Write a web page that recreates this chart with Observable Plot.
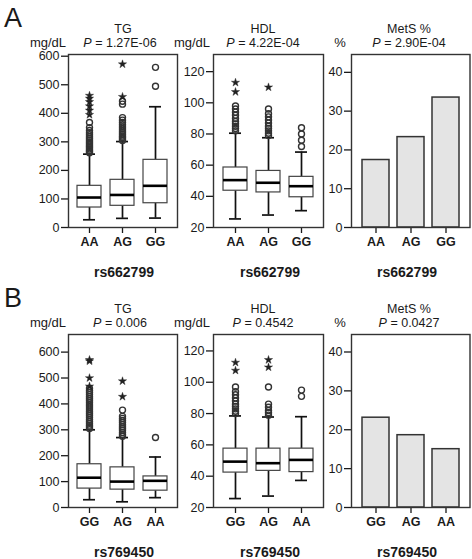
<!DOCTYPE html>
<html>
<head>
<meta charset="utf-8">
<script src="https://cdn.jsdelivr.net/npm/d3@7"></script>
<script src="https://cdn.jsdelivr.net/npm/@observablehq/plot@0.6"></script>
<style>
  html, body { margin: 0; padding: 0; background: #fff; }
  #fig { position: relative; width: 472px; height: 559px; font-family: "Liberation Sans", Arial, Helvetica, sans-serif; color: #1a1a1a; overflow: hidden; }
  .lbl { position: absolute; transform: translate(-50%, -50%); white-space: nowrap; line-height: 1; }
  .pan { position: absolute; }
  .pan svg { overflow: visible; max-width: none !important; }
  .pan g[aria-label="x-axis tick label"] text { font-weight: bold; }
</style>
</head>
<body>
<div id="fig"></div>
<script>
// ---------- data ----------
const snps = ["rs662799", "rs769450"];
const rowLetters = ["A", "B"];
const panelTitles = ["TG", "HDL", "MetS %"];
const units = ["mg/dL", "mg/dL", "%"];
const pA = ["1.27E-06", "4.22E-04", "2.90E-04"];
const pB = ["0.006", "0.4542", "0.0427"];

const genoA = ["AA", "AG", "GG"];
const genoB = ["GG", "AG", "AA"];

const tgTicks = [0, 100, 200, 300, 400, 500, 600];
const hdlTicks = [20, 40, 60, 80, 100, 120];
const metsTicks = [0, 10, 20, 30, 40];

// Row A: TG
const tgA_low = [27, 32, 33];
const tgA_q1 = [70, 76, 85];
const tgA_med = [105, 114, 146];
const tgA_q3 = [146, 167, 237];
const tgA_high = [257, 301, 423];
const tgA_circ = [
  [262, 266, 270, 275, 280, 285, 290, 295, 300, 306, 312, 318, 325, 332, 340, 350, 368],
  [305, 310, 315, 320, 326, 332, 338, 345, 352, 360, 368, 376, 385, 432, 442],
  [495, 561]
];
const tgA_star = [[395, 410, 425, 440, 452, 462], [458, 572], []];

// Row A: HDL
const hdlA_low = [25.5, 28, 30.8];
const hdlA_q1 = [43.6, 42.5, 39.4];
const hdlA_med = [50.4, 48.7, 46.5];
const hdlA_q3 = [58.5, 56.3, 52.5];
const hdlA_high = [80.5, 77.6, 68.4];
const hdlA_circ = [
  [82, 83.5, 85, 86.5, 88, 90, 92, 94, 96, 98],
  [79, 80.5, 82, 83.5, 85, 87, 89, 91, 93, 96],
  [72, 76, 80, 84]
];
const hdlA_star = [[107, 113], [110], []];

// Row A: MetS
const metsA = [17.4, 23.3, 33.5];

// Row B: TG
const tgB_low = [30, 22, 38];
const tgB_q1 = [73, 69, 65];
const tgB_med = [115, 100, 103];
const tgB_q3 = [167, 155, 120];
const tgB_high = [300, 270, 195];
const tgB_circ = [
  [305, 312, 318, 325, 332, 340, 348, 356, 364, 372, 380, 388, 396, 404, 412, 420, 428, 436, 444, 452, 460],
  [275, 282, 290, 298, 305, 312, 320, 328, 336, 344, 352, 376],
  [270]
];
const tgB_star = [[468, 500, 565, 570], [428, 488], []];

// Row B: HDL
const hdlB_low = [25.7, 27.3, 37.3];
const hdlB_q1 = [42.3, 43.4, 42.6];
const hdlB_med = [49.3, 48.3, 50.4];
const hdlB_q3 = [57.6, 57.6, 57.6];
const hdlB_high = [78.5, 77.8, 78];
const hdlB_circ = [
  [80, 81.5, 83, 84.5, 86, 88, 90, 92, 94, 97],
  [79, 80.5, 82, 84, 86, 97],
  [91, 95]
];
const hdlB_star = [[107.5, 112.6], [109.6, 114.3], []];

// Row B: MetS
const metsB = [23.1, 18.6, 15.0];

// ---------- drawing ----------
const FONT = '"Liberation Sans", Arial, Helvetica, sans-serif';
const fig = document.getElementById("fig");

function addLabel(html, x, y, size, weight) {
  const d = document.createElement("div");
  d.className = "lbl";
  d.style.left = x + "px";
  d.style.top = y + "px";
  d.style.fontSize = size + "px";
  d.style.fontWeight = weight || "normal";
  d.innerHTML = html;
  fig.appendChild(d);
}

function place(svg, left, top) {
  const w = document.createElement("div");
  w.className = "pan";
  w.style.left = left + "px";
  w.style.top = top + "px";
  w.appendChild(svg);
  fig.appendChild(w);
}

function boxPanel(cfg) {
  const rows = cfg.groups.map((g, i) => ({
    g, low: cfg.low[i], q1: cfg.q1[i], med: cfg.med[i], q3: cfg.q3[i], high: cfg.high[i]
  }));
  const circ = cfg.groups.flatMap((g, i) => cfg.circ[i].map(v => ({g, v})));
  const star = cfg.groups.flatMap((g, i) => cfg.star[i].map(v => ({g, v})));
  return Plot.plot({
    width: cfg.width, height: 260,
    marginLeft: cfg.ml, marginRight: cfg.mr, marginTop: 54, marginBottom: 33,
    style: {fontFamily: FONT, fontSize: "12.5px", background: "transparent", color: "#1a1a1a", overflow: "visible"},
    x: {domain: cfg.groups, paddingInner: 0.26, paddingOuter: 0.28, label: null},
    y: {domain: cfg.domain, label: null},
    marks: [
      Plot.axisY({ticks: cfg.ticks, tickSize: 7, tickPadding: 2, label: null, strokeWidth: 1.3}),
      Plot.axisX({tickSize: 6, tickPadding: 4, label: null, strokeWidth: 1.3, fontWeight: "bold"}),
      Plot.ruleX(rows, {x: "g", y1: "low", y2: "q1", stroke: "#111", strokeWidth: 1.7}),
      Plot.ruleX(rows, {x: "g", y1: "q3", y2: "high", stroke: "#111", strokeWidth: 1.7}),
      Plot.tickY(rows, {x: "g", y: "low", stroke: "#111", strokeWidth: 1.7, insetLeft: 6, insetRight: 6}),
      Plot.tickY(rows, {x: "g", y: "high", stroke: "#111", strokeWidth: 1.7, insetLeft: 6, insetRight: 6}),
      Plot.barY(rows, {x: "g", y1: "q1", y2: "q3", fill: "white", stroke: "#444", strokeWidth: 1.2}),
      Plot.tickY(rows, {x: "g", y: "med", stroke: "#000", strokeWidth: 2.6}),
      Plot.dot(circ, {x: "g", y: "v", r: 3, stroke: "#333", strokeWidth: 1.4, fill: "none"}),
      Plot.dot(star, {x: "g", y: "v", r: 2.6, symbol: "star", fill: "#222", stroke: "#222", strokeWidth: 0.4})
    ].concat([Plot.frame({stroke: "#333", strokeWidth: 1.4})])
  });
}

function barPanel(cfg) {
  const rows = cfg.groups.map((g, i) => ({g, v: cfg.values[i]}));
  return Plot.plot({
    width: cfg.width, height: 260,
    marginLeft: cfg.ml, marginRight: cfg.mr, marginTop: 54, marginBottom: 33,
    style: {fontFamily: FONT, fontSize: "12.5px", background: "transparent", color: "#1a1a1a", overflow: "visible"},
    x: {domain: cfg.groups, paddingInner: 0.24, paddingOuter: 0.29, label: null},
    y: {domain: cfg.domain, label: null},
    marks: [
      Plot.axisY({ticks: cfg.ticks, tickSize: 7, tickPadding: 2, label: null, strokeWidth: 1.3}),
      Plot.axisX({tickSize: 6, tickPadding: 4, label: null, strokeWidth: 1.3, fontWeight: "bold"}),
      Plot.barY(rows, {x: "g", y: "v", fill: "#e4e4e4", stroke: "#333", strokeWidth: 1.5}),
      Plot.frame({stroke: "#333", strokeWidth: 1.4})
    ]
  });
}

const rowsCfg = [
  {dy: 0, groups: genoA, p: pA, tgDomain: [0, 606], hdlDomain: [20, 131], metsDomain: [0, 44.6],
   tg: [tgA_low, tgA_q1, tgA_med, tgA_q3, tgA_high, tgA_circ, tgA_star],
   hdl: [hdlA_low, hdlA_q1, hdlA_med, hdlA_q3, hdlA_high, hdlA_circ, hdlA_star],
   mets: metsA},
  {dy: 280, groups: genoB, p: pB, tgDomain: [0, 668], hdlDomain: [20, 130.5], metsDomain: [0, 44.5],
   tg: [tgB_low, tgB_q1, tgB_med, tgB_q3, tgB_high, tgB_circ, tgB_star],
   hdl: [hdlB_low, hdlB_q1, hdlB_med, hdlB_q3, hdlB_high, hdlB_circ, hdlB_star],
   mets: metsB}
];

rowsCfg.forEach((r, ri) => {
  const [l1, q11, m1, q31, h1, c1, s1] = r.tg;
  place(boxPanel({groups: r.groups, low: l1, q1: q11, med: m1, q3: q31, high: h1, circ: c1, star: s1,
    domain: r.tgDomain, ticks: tgTicks, width: 185, ml: 68, mr: 8}), 0, r.dy);
  const [l2, q12, m2, q32, h2, c2, s2] = r.hdl;
  place(boxPanel({groups: r.groups, low: l2, q1: q12, med: m2, q3: q32, high: h2, circ: c2, star: s2,
    domain: r.hdlDomain, ticks: hdlTicks, width: 145, ml: 28, mr: 7}), 185, r.dy);
  place(barPanel({groups: r.groups, values: r.mets, domain: r.metsDomain, ticks: metsTicks,
    width: 142, ml: 21, mr: 2.5}), 330, r.dy);

  // text
  addLabel(rowLetters[ri], 13, r.dy + 18, 27, "normal");
  const titleX = [123, 263, 409];
  const unitX = [48, 192, 340];
  const snpX = [124, 270, 407];
  panelTitles.forEach((t, i) => {
    addLabel(t, titleX[i], r.dy + 29, 12.5, "normal");
    addLabel('<i>P</i> = ' + r.p[i], titleX[i] - (i === 0 ? 3 : 0), r.dy + 43, 12.5, "normal");
    addLabel(units[i], unitX[i], r.dy + 42, 13, "normal");
    addLabel(snps[ri], snpX[i], r.dy + 272, 14, "bold");
  });
});
</script>
</body>
</html>
